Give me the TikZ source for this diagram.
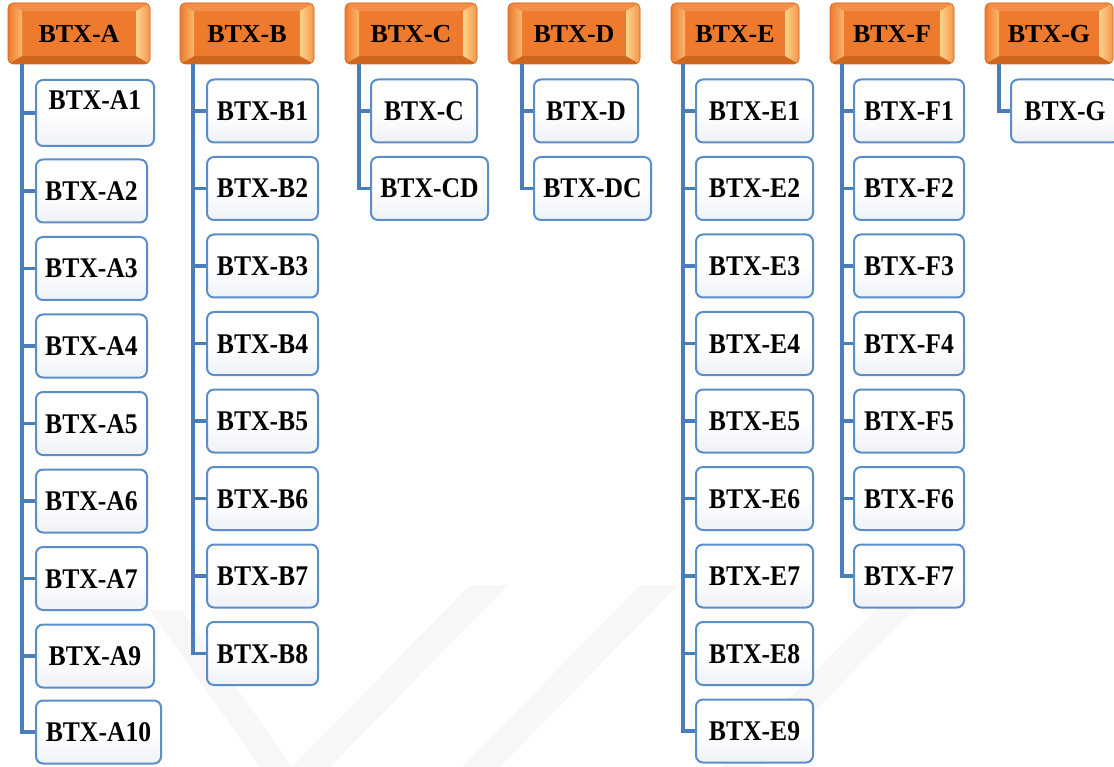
\documentclass[tikz,border=0pt]{standalone}
\usepackage{fontspec}
\setmainfont{Liberation Serif}
\newfontfamily\boxfont{Liberation Serif}[FakeStretch=0.9]
\definecolor{orgmain}{HTML}{EE7A2E}
\definecolor{orgtop}{HTML}{F18E47}
\definecolor{orgbot}{HTML}{CF6620}
\definecolor{orgedge}{HTML}{D06A24}
\definecolor{orglight}{HTML}{FDD48E}
\definecolor{orgleft}{HTML}{F8B86E}
\definecolor{chblue}{HTML}{5B8DC9}
\definecolor{chbot}{HTML}{EEF2F6}
\definecolor{lnblue}{HTML}{4A7EBB}
\definecolor{wm}{HTML}{F7F7F7}
\tikzset{
  hdr/.style={minimum height=61pt, inner sep=0pt, text height=17.5pt, text depth=0pt,
    rounded corners=5pt, draw=orgedge, line width=0.6pt, fill=orgmain,
    font=\fontsize{26}{30}\selectfont\bfseries,
    path picture={
      \coordinate (pnw) at (path picture bounding box.north west);
      \coordinate (pne) at (path picture bounding box.north east);
      \coordinate (psw) at (path picture bounding box.south west);
      \coordinate (pse) at (path picture bounding box.south east);
      \fill[orgtop, sharp corners] (pnw) -- (pne) -- ([xshift=-14pt,yshift=-8pt]pne) -- ([xshift=14pt,yshift=-8pt]pnw) -- cycle;
      \fill[orgbot, sharp corners] (psw) -- (pse) -- ([xshift=-14pt,yshift=8pt]pse) -- ([xshift=14pt,yshift=8pt]psw) -- cycle;
      \shade[left color=orgmain, right color=orgleft, sharp corners] (pnw) -- ([xshift=14pt,yshift=-8pt]pnw) -- ([xshift=14pt,yshift=8pt]psw) -- (psw) -- cycle;
      \shade[left color=orglight, right color=orgmain!70!orglight, sharp corners] (pne) -- ([xshift=-14pt,yshift=-8pt]pne) -- ([xshift=-14pt,yshift=8pt]pse) -- (pse) -- cycle;
    }},
  chd/.style={draw=chblue, line width=2pt, rounded corners=7pt, top color=white,
    bottom color=chbot, middle color=white, minimum height=63pt, inner sep=0pt, text height=19pt,
    text depth=0pt, anchor=west, font=\boxfont\fontsize{28.5}{32}\selectfont\bfseries},
  conn/.style={draw=lnblue, line width=3.6pt},
  wmark/.style={fill=wm}
}
\begin{document}
\begin{tikzpicture}[x=1pt, y=-1pt]
\useasboundingbox (0,0) rectangle (1114,767);
% faint watermark bands
\fill[wmark] (150,610) -- (182,610) -- (292,767) -- (260,767) -- cycle;
\fill[wmark] (470,585) -- (508,585) -- (330,767) -- (292,767) -- cycle;
\fill[wmark] (640,585) -- (678,585) -- (500,767) -- (462,767) -- cycle;
\fill[wmark] (900,585) -- (938,585) -- (760,767) -- (722,767) -- cycle;

% headers
\node[hdr, minimum width=142pt] (A) at (79,33.5) {BTX-A};
\node[hdr, minimum width=134pt] (B) at (247,33.5) {BTX-B};
\node[hdr, minimum width=132pt] (C) at (411,33.5) {BTX-C};
\node[hdr, minimum width=132pt] (D) at (574,33.5) {BTX-D};
\node[hdr, minimum width=128pt] (E) at (735,33.5) {BTX-E};
\node[hdr, minimum width=124pt] (F) at (892,33.5) {BTX-F};
\node[hdr, minimum width=128pt] (G) at (1049,33.5) {BTX-G};

\coordinate (Asp) at (22,64);
\coordinate (Bsp) at (193,64);
\coordinate (Csp) at (359,64);
\coordinate (Dsp) at (522,64);
\coordinate (Esp) at (683,64);
\coordinate (Fsp) at (842,64);
\coordinate (Gsp) at (999,64);

% column A
\node[chd, minimum width=118pt, minimum height=66pt, text height=30pt, text depth=36pt] (A1) at (35,113) {BTX-A1};
\foreach \n/\y/\w in {2/191/111, 3/268.5/111, 4/346/111, 5/423.5/111, 6/501/111, 7/578.5/111, 9/656/118, 10/732/125}
  \node[chd, minimum width=\w pt] (A\n) at (35,\y) {BTX-A\n};
\foreach \n in {1,2,3,4,5,6,7,9,10}
  \draw[conn] (Asp) |- (A\n.west);

% column B
\foreach \n/\y in {1/111, 2/188.5, 3/266, 4/343.5, 5/421, 6/498.5, 7/576, 8/653.5}
  \node[chd, minimum width=111pt] (B\n) at (206,\y) {BTX-B\n};
\foreach \n in {1,...,8}
  \draw[conn] (Bsp) |- (B\n.west);

% column C
\node[chd, minimum width=106pt] (C1) at (370,111) {BTX-C};
\node[chd, minimum width=117pt] (C2) at (370,188.5) {BTX-CD};
\draw[conn] (Csp) |- (C1.west);
\draw[conn] (Csp) |- (C2.west);

% column D
\node[chd, minimum width=104pt] (D1) at (533,111) {BTX-D};
\node[chd, minimum width=117pt] (D2) at (533,188.5) {BTX-DC};
\draw[conn] (Dsp) |- (D1.west);
\draw[conn] (Dsp) |- (D2.west);

% column E
\foreach \n/\y in {1/111, 2/188.5, 3/266, 4/343.5, 5/421, 6/498.5, 7/576, 8/653.5, 9/731}
  \node[chd, minimum width=117pt] (E\n) at (695,\y) {BTX-E\n};
\foreach \n in {1,...,9}
  \draw[conn] (Esp) |- (E\n.west);

% column F
\foreach \n/\y in {1/111, 2/188.5, 3/266, 4/343.5, 5/421, 6/498.5, 7/576}
  \node[chd, minimum width=110pt] (F\n) at (853,\y) {BTX-F\n};
\foreach \n in {1,...,7}
  \draw[conn] (Fsp) |- (F\n.west);

% column G
\node[chd, minimum width=108pt] (G1) at (1010,111) {BTX-G};
\draw[conn] (Gsp) |- (G1.west);
\end{tikzpicture}
\end{document}
